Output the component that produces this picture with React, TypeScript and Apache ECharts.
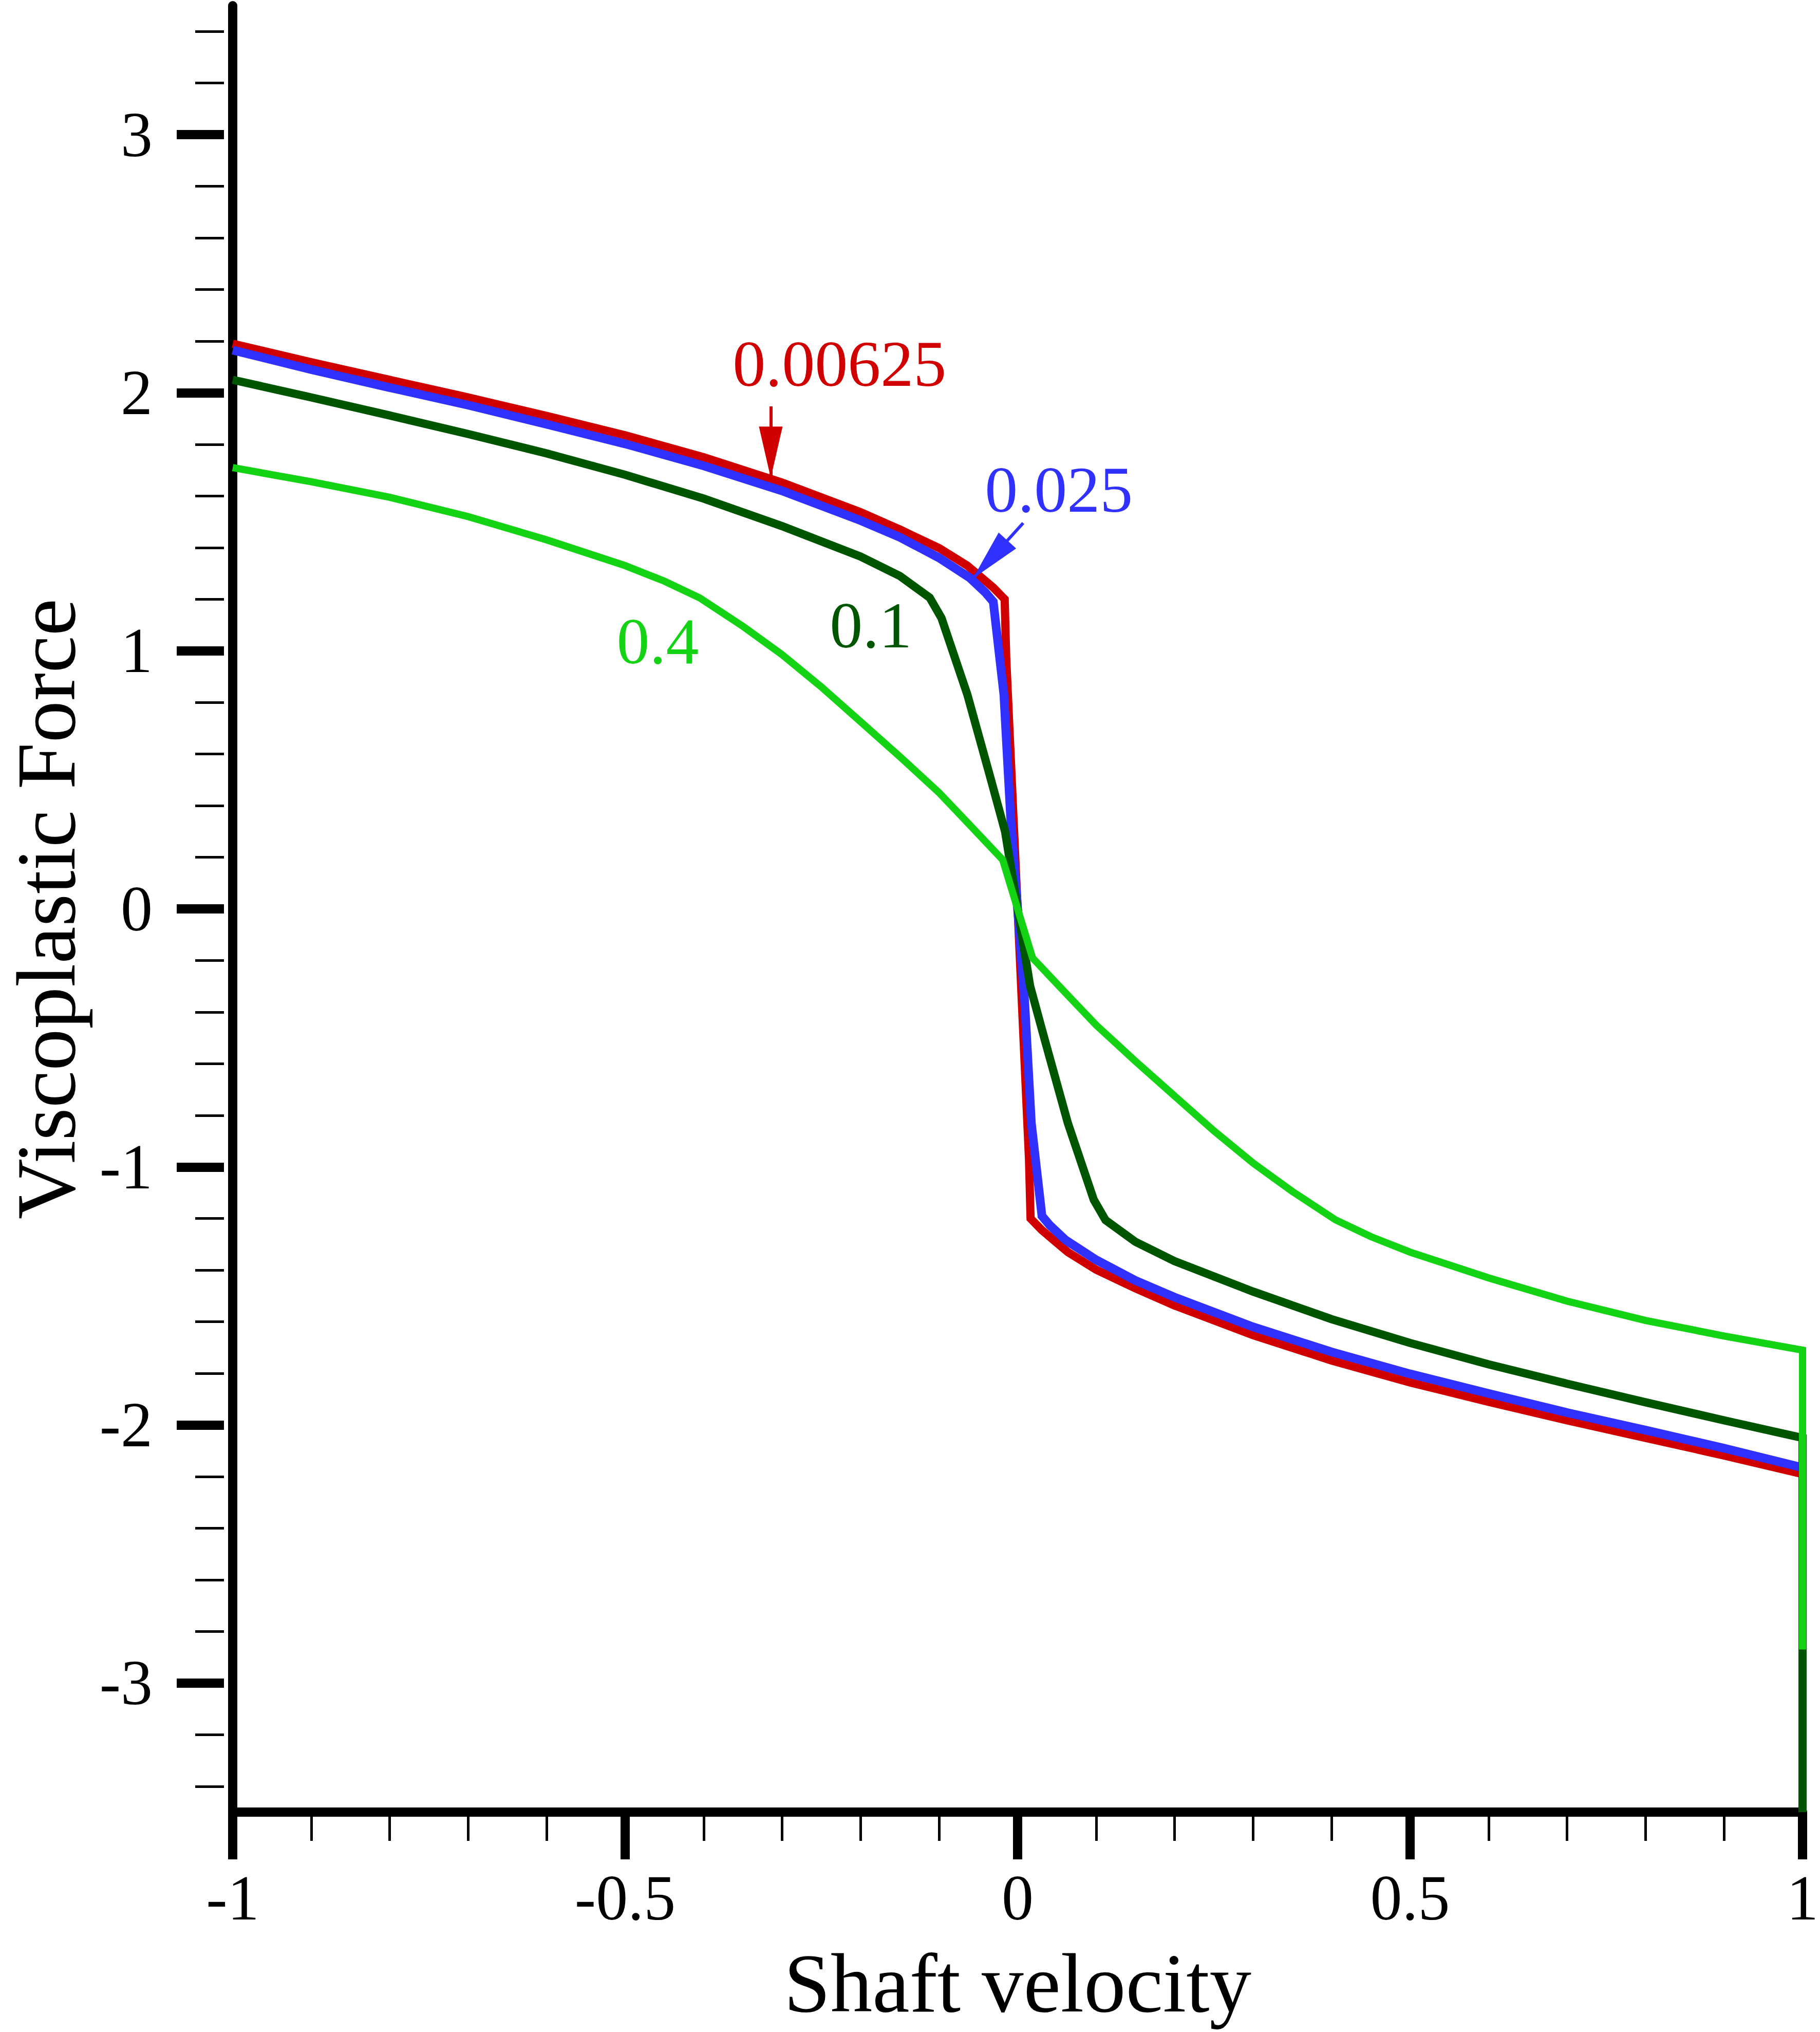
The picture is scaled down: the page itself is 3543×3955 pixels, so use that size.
import React, { useEffect, useRef } from 'react';
import * as echarts from 'echarts';

// ---------- data ----------
const X_MIN = -1;
const X_MAX = 1;
const X_STEP = 0.5;
const Y_MIN = -3.5;
const Y_MAX = 3.5;
const Y_MINOR_MIN = -3.4;
const Y_MINOR_MAX = 3.4;
const Y_MINOR_STEP = 0.2;
const Y_MAJOR_MIN = -3;
const Y_MAJOR_MAX = 3;
const Y_MAJOR_STEP = 1;

const X_TITLE = 'Shaft velocity';
const Y_TITLE = 'Viscoplastic Force';

// 0.00625
const RED_X = [-1, -0.9, -0.8, -0.7, -0.6, -0.5, -0.4, -0.3, -0.2, -0.15, -0.1, -0.064, -0.031, -0.0165, -0.0145,
  0.0145, 0.0165, 0.031, 0.064, 0.1, 0.15, 0.2, 0.3, 0.4, 0.5, 0.6, 0.7, 0.8, 0.9, 1];
const RED_Y = [2.19, 2.118, 2.05, 1.982, 1.91, 1.835, 1.75, 1.652, 1.537, 1.47, 1.398, 1.33, 1.245, 1.2, 0.97,
  -0.97, -1.2, -1.245, -1.33, -1.398, -1.47, -1.537, -1.652, -1.75, -1.835, -1.91, -1.982, -2.05, -2.118, -2.19];

// 0.025
const BLUE_X = [-1, -0.9, -0.8, -0.7, -0.6, -0.5, -0.4, -0.3, -0.2, -0.15, -0.1, -0.061, -0.041, -0.031, -0.0175, -0.009, 0,
  0.009, 0.0175, 0.031, 0.041, 0.061, 0.1, 0.15, 0.2, 0.3, 0.4, 0.5, 0.6, 0.7, 0.8, 0.9, 1];
const BLUE_Y = [2.165, 2.09, 2.02, 1.952, 1.878, 1.802, 1.717, 1.62, 1.505, 1.44, 1.36, 1.283, 1.226, 1.19, 0.83, 0.36, 0,
  -0.36, -0.83, -1.19, -1.226, -1.283, -1.36, -1.44, -1.505, -1.62, -1.717, -1.802, -1.878, -1.952, -2.02, -2.09, -2.165];

// 0.1
const DKGREEN_X = [-1, -0.9, -0.8, -0.7, -0.6, -0.5, -0.4, -0.3, -0.2, -0.15, -0.112, -0.097, -0.064, -0.035, -0.016, 0,
  0.016, 0.035, 0.064, 0.097, 0.112, 0.15, 0.2, 0.3, 0.4, 0.5, 0.6, 0.7, 0.8, 0.9, 1, 1];
const DKGREEN_Y = [2.05, 1.982, 1.912, 1.84, 1.765, 1.682, 1.59, 1.483, 1.365, 1.29, 1.206, 1.127, 0.83, 0.512, 0.3, 0,
  -0.3, -0.512, -0.83, -1.127, -1.206, -1.29, -1.365, -1.483, -1.59, -1.682, -1.765, -1.84, -1.912, -1.982, -2.05, -3.5];

// 0.4
const LTGREEN_X = [-1, -0.9, -0.8, -0.7, -0.6, -0.5, -0.45, -0.405, -0.35, -0.3, -0.25, -0.2, -0.15, -0.1, -0.064, -0.019,
  0.019, 0.064, 0.1, 0.15, 0.2, 0.25, 0.3, 0.35, 0.405, 0.45, 0.5, 0.6, 0.7, 0.8, 0.9, 1, 1];
const LTGREEN_Y = [1.71, 1.655, 1.595, 1.52, 1.43, 1.33, 1.27, 1.205, 1.095, 0.985, 0.86, 0.725, 0.59, 0.45, 0.335, 0.19,
  -0.19, -0.335, -0.45, -0.59, -0.725, -0.86, -0.985, -1.095, -1.205, -1.27, -1.33, -1.43, -1.52, -1.595, -1.655, -1.71, -2.87];

// annotations
const LABEL_TEXT = ['0.00625', '0.025', '0.1', '0.4'];
const LABEL_X = [-0.227, 0.0525, -0.187, -0.4585];
const LABEL_Y = [2.112, 1.625, 1.099, 1.037];

const RED_ARROW_FROM = [-0.3145, 1.947];
const RED_ARROW_TO = [-0.3145, 1.67];
const BLUE_ARROW_FROM = [0.0071, 1.495];
const BLUE_ARROW_TO = [-0.057, 1.28];

// ---------- styles ----------
const RED = '#D00000';
const BLUE = '#3030FF';
const DKGREEN = '#005500';
const LTGREEN = '#14D214';
const FONT = "'Liberation Serif', 'Times New Roman', serif";

const W = 3543;
const H = 3955;
const GRID_LEFT = 436;
const GRID_RIGHT_PX = 3520;
const GRID_TOP = 11;
const GRID_BOTTOM_PX = 3527;
const UNIT = (GRID_BOTTOM_PX - GRID_TOP) / (Y_MAX - Y_MIN);

function subGrid(lo: number, hi: number) {
  return {
    left: GRID_LEFT,
    right: W - GRID_RIGHT_PX,
    top: GRID_TOP + (Y_MAX - hi) * UNIT,
    height: (hi - lo) * UNIT,
  };
}

function pairs(xs: number[], ys: number[]) {
  return xs.map((x, i) => [x, ys[i]]);
}

function labelPoint(i: number, color: string) {
  return {
    coord: [LABEL_X[i], LABEL_Y[i]],
    symbol: 'circle',
    symbolSize: 1,
    itemStyle: { color: 'rgba(0,0,0,0)' },
    label: {
      show: true,
      position: 'inside',
      formatter: LABEL_TEXT[i],
      color,
      fontSize: 128,
      fontFamily: FONT,
    },
  };
}

function arrow(from: number[], to: number[], color: string) {
  return {
    silent: true,
    symbol: 'none',
    label: { show: false },
    lineStyle: { color, width: 6, type: 'solid' },
    itemStyle: { color },
    data: [[
      { coord: from, symbol: 'none', symbolSize: 1 },
      { coord: to, symbol: 'triangle', symbolSize: [46, 100], symbolOffset: [0, 50], itemStyle: { color } },
    ]],
  };
}

export default function App() {
  const ref = useRef<HTMLDivElement>(null);
  useEffect(() => {
    if (!ref.current) return;
    const chart = echarts.init(ref.current, undefined, { renderer: 'svg' });
    const lineSeries = (name: string, xs: number[], ys: number[], color: string, width: number, extra: any) => ({
      type: 'line',
      name,
      xAxisIndex: 0,
      yAxisIndex: 0,
      data: pairs(xs, ys),
      showSymbol: false,
      symbol: 'none',
      color,
      clip: true,
      lineStyle: { color, width, join: 'miter' },
      silent: true,
      ...extra,
    });
    chart.setOption({
      animation: false,
      backgroundColor: '#ffffff',
      grid: [
        { left: GRID_LEFT, right: W - GRID_RIGHT_PX, top: GRID_TOP, bottom: H - GRID_BOTTOM_PX },
        subGrid(Y_MINOR_MIN, Y_MINOR_MAX),
        subGrid(Y_MAJOR_MIN, Y_MAJOR_MAX),
      ],
      xAxis: [
        {
          gridIndex: 0,
          type: 'value',
          min: X_MIN,
          max: X_MAX,
          interval: X_STEP,
          name: X_TITLE,
          nameLocation: 'middle',
          nameGap: 251,
          nameTextStyle: { fontSize: 163, fontFamily: FONT, color: '#000' },
          axisLine: { show: true, onZero: false, lineStyle: { color: '#000', width: 18 } },
          axisTick: { show: true, length: 92, lineStyle: { color: '#000', width: 18 } },
          minorTick: { show: true, splitNumber: 5, length: 56, lineStyle: { color: '#000', width: 5 } },
          axisLabel: { show: true, margin: 105, fontSize: 124, fontFamily: FONT, color: '#000' },
          splitLine: { show: false },
          minorSplitLine: { show: false },
        },
        { gridIndex: 1, type: 'value', show: false, min: 0, max: 1 },
        { gridIndex: 2, type: 'value', show: false, min: 0, max: 1 },
      ],
      yAxis: [
        {
          gridIndex: 0,
          type: 'value',
          min: Y_MIN,
          max: Y_MAX,
          name: Y_TITLE,
          nameLocation: 'middle',
          nameGap: 282,
          nameTextStyle: { fontSize: 163, fontFamily: FONT, color: '#000' },
          axisLine: { show: true, onZero: false, lineStyle: { color: '#000', width: 18 } },
          axisTick: { show: false },
          axisLabel: { show: false },
          splitLine: { show: false },
        },
        {
          gridIndex: 1,
          type: 'value',
          min: Y_MINOR_MIN,
          max: Y_MINOR_MAX,
          interval: Y_MINOR_STEP,
          axisLine: { show: false, onZero: false },
          axisTick: { show: true, length: 56, lineStyle: { color: '#000', width: 5 } },
          axisLabel: { show: false },
          splitLine: { show: false },
        },
        {
          gridIndex: 2,
          type: 'value',
          min: Y_MAJOR_MIN,
          max: Y_MAJOR_MAX,
          interval: Y_MAJOR_STEP,
          axisLine: { show: false, onZero: false },
          axisTick: { show: true, length: 92, lineStyle: { color: '#000', width: 18 } },
          axisLabel: { show: true, margin: 139, fontSize: 124, fontFamily: FONT, color: '#000' },
          splitLine: { show: false },
        },
      ],
      series: [
        lineSeries('0.00625', RED_X, RED_Y, RED, 16, {
          markPoint: { silent: true, data: [labelPoint(0, RED)] },
          markLine: arrow(RED_ARROW_FROM, RED_ARROW_TO, RED),
        }),
        lineSeries('0.025', BLUE_X, BLUE_Y, BLUE, 17, {
          markPoint: { silent: true, data: [labelPoint(1, BLUE)] },
          markLine: arrow(BLUE_ARROW_FROM, BLUE_ARROW_TO, BLUE),
        }),
        lineSeries('0.1', DKGREEN_X, DKGREEN_Y, DKGREEN, 16, {
          markPoint: { silent: true, data: [labelPoint(2, DKGREEN)] },
        }),
        lineSeries('0.4', LTGREEN_X, LTGREEN_Y, LTGREEN, 14, {
          markPoint: { silent: true, data: [labelPoint(3, LTGREEN)] },
        }),
      ],
    });
    return () => chart.dispose();
  }, []);
  return (
    <div
      ref={ref}
      style={{ position: 'absolute', left: 0, top: 0, width: W, height: H, background: '#fff' }}
    />
  );
}
